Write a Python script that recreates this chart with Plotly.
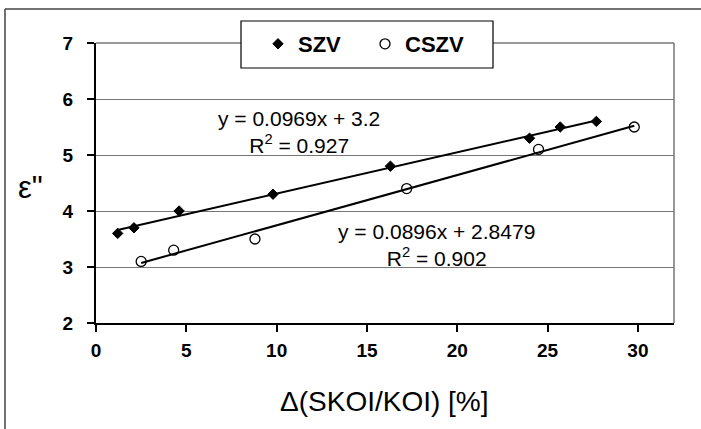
import numpy as np
import plotly.graph_objects as go

# ---- data ----
szv_x = [1.2, 2.1, 4.6, 9.8, 16.3, 24.0, 25.7, 27.7]
szv_y = [3.6, 3.7, 4.0, 4.3, 4.8, 5.3, 5.5, 5.6]
cszv_x = [2.5, 4.3, 8.8, 17.2, 24.5, 29.8]
cszv_y = [3.1, 3.3, 3.5, 4.4, 5.1, 5.5]

x_ticks = [0, 5, 10, 15, 20, 25, 30]
y_ticks = [2, 3, 4, 5, 6, 7]

eq_szv = "y = 0.0969x + 3.2<br>R<sup>2</sup> = 0.927"
eq_cszv = "y = 0.0896x + 2.8479<br>R<sup>2</sup> = 0.902"

FONT = "Arial, Liberation Sans, sans-serif"

# linear trend lines fitted to each series
def trend(xs, ys):
    k, b = np.polyfit(xs, ys, 1)
    xx = np.array([min(xs), max(xs)])
    return xx, k * xx + b

tx1, ty1 = trend(szv_x, szv_y)
tx2, ty2 = trend(cszv_x, cszv_y)

fig = go.Figure()
fig.add_trace(go.Scatter(x=tx1, y=ty1, mode="lines", line=dict(color="black", width=2),
                         showlegend=False, hoverinfo="skip"))
fig.add_trace(go.Scatter(x=tx2, y=ty2, mode="lines", line=dict(color="black", width=2),
                         showlegend=False, hoverinfo="skip"))
fig.add_trace(go.Scatter(x=szv_x, y=szv_y, mode="markers", name="SZV",
                         marker=dict(symbol="diamond", size=8, color="black",
                                     line=dict(color="black", width=1))))
fig.add_trace(go.Scatter(x=cszv_x, y=cszv_y, mode="markers", name="CSZV",
                         marker=dict(symbol="circle-open", size=10, color="black",
                                     line=dict(color="black", width=1.3))))

L, R, T, B = 96, 27, 43, 106
W, H = 701, 429
pw, ph = W - L - R, H - T - B

def px(xp):
    return (xp - L) / pw

def py(yp):
    return (H - B - yp) / ph

fig.update_layout(
    width=W, height=H,
    margin=dict(l=L, r=R, t=T, b=B),
    paper_bgcolor="white", plot_bgcolor="white",
    font=dict(family=FONT, color="black"),
    showlegend=True,
    legend=dict(orientation="h", x=px(258), xanchor="left", y=py(44), yanchor="middle",
                bgcolor="rgba(0,0,0,0)", borderwidth=0,
                font=dict(size=22, family=FONT, weight="bold"),
                entrywidth=62, itemwidth=30),
    xaxis=dict(range=[0, 32], tickvals=x_ticks, showgrid=False, zeroline=False,
               showline=True, linecolor="black", linewidth=2,
               ticks="outside", ticklen=7, tickwidth=2, tickcolor="black",
               tickfont=dict(size=19, family=FONT, weight="bold"),
               ticklabelstandoff=2),
    yaxis=dict(range=[2, 7], tickvals=y_ticks, showgrid=True, gridcolor="#777777",
               gridwidth=1, zeroline=False,
               showline=True, linecolor="black", linewidth=2,
               ticks="outside", ticklen=7, tickwidth=2, tickcolor="black",
               tickfont=dict(size=19, family=FONT, weight="bold"),
               ticklabelstandoff=10),
)

# plot-area border (top/right) and legend box
fig.add_shape(type="line", xref="paper", yref="paper", x0=0, x1=1, y0=1, y1=1,
              line=dict(color="#777777", width=1.5))
fig.add_shape(type="line", xref="paper", yref="paper", x0=1, x1=1, y0=0, y1=1,
              line=dict(color="#777777", width=1.5))
fig.add_shape(type="rect", xref="paper", yref="paper", layer="above",
              x0=px(241), x1=px(493), y0=py(68), y1=py(21),
              fillcolor="white", line=dict(color="black", width=1.2))
# outer frame (top and left edges as in the scan)
fig.add_shape(type="line", xref="paper", yref="paper", x0=px(5), x1=px(701), y0=py(9), y1=py(9),
              line=dict(color="#444444", width=1.5))
fig.add_shape(type="line", xref="paper", yref="paper", x0=px(5), x1=px(5), y0=py(9), y1=py(429),
              line=dict(color="#444444", width=1.5))

ann = dict(xref="paper", yref="paper", showarrow=False, xanchor="center", yanchor="middle",
           font=dict(size=21, family=FONT))
fig.add_annotation(x=px(299), y=py(132), text=eq_szv, **ann)
fig.add_annotation(x=px(436), y=py(245), text=eq_cszv, **ann)

fig.add_annotation(x=px(384), y=py(402), text="Δ(SKOI/KOI) [%]", xref="paper", yref="paper",
                   xanchor="center", yanchor="middle",
                   showarrow=False, font=dict(size=28, family=FONT))
fig.add_annotation(x=px(30), y=py(188), text="ε\"", xref="paper", yref="paper",
                   xanchor="center", yanchor="middle",
                   showarrow=False, font=dict(size=31, family=FONT))

fig.write_html("out.html", config={"displayModeBar": False},
               post_script="document.body.style.margin='0';document.body.style.padding='0';")
